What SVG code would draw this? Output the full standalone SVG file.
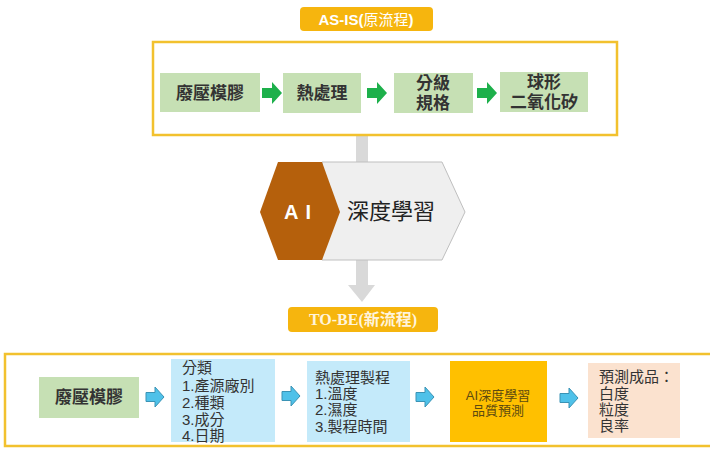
<svg xmlns="http://www.w3.org/2000/svg" width="710" height="450" viewBox="0 0 710 450">
<defs>
<style>
.cjk{font-family:"Liberation Sans","Noto Sans CJK TC",sans-serif;}
.frame{fill:#fff;stroke:#F2C12E;stroke-width:2.5;}
.gbox{fill:#C6E0B4;}
.gtxt{font-size:17px;font-weight:bold;fill:#333;text-anchor:middle;}
.garrow{fill:#1DB04B;}
.barrow{fill:#4FC1E9;stroke:#3A93B5;stroke-width:1;}
.bbox{fill:#C4EAFA;}
.ltxt{font-size:15px;fill:#333;}
.label{fill:#F6B50E;}
</style>
<path id="ga" d="M0,-5 H10 V-11 L20,0 L10,11 V5 H0 Z"/>
<path id="ba" d="M0,-4.5 H9 V-10 L18,0 L9,10 V4.5 H0 Z"/>
</defs>
<rect width="710" height="450" fill="#fff"/>

<!-- connectors: gray vertical arrow -->
<g id="connectors">
<rect x="356" y="136" width="12" height="150" fill="#D9D9D9"/>
<path d="M348,285 H375 L362,302 Z" fill="#D9D9D9"/>
</g>

<!-- AS-IS -->
<g id="asis-label">
<rect class="label" x="300" y="7" width="133" height="24" rx="4"/>
<text class="cjk" x="366" y="25" text-anchor="middle" font-size="15" fill="#fff"><tspan font-weight="bold">AS-IS(</tspan>原流程<tspan font-weight="bold">)</tspan></text>
</g>
<g id="asis-frame"><rect class="frame" x="153" y="42" width="464" height="93"/></g>

<g id="n1"><rect class="gbox" x="160" y="73" width="100" height="39"/><text class="cjk gtxt" x="210" y="99">廢壓模膠</text></g>
<g id="n2"><rect class="gbox" x="283" y="73" width="78" height="40"/><text class="cjk gtxt" x="322" y="99">熱處理</text></g>
<g id="n3"><rect class="gbox" x="394" y="73" width="79" height="40"/><text class="cjk gtxt" x="433" y="89">分級</text><text class="cjk gtxt" x="433" y="109">規格</text></g>
<g id="n4"><rect class="gbox" x="500" y="72" width="88" height="40"/><text class="cjk gtxt" x="544" y="88">球形</text><text class="cjk gtxt" x="544" y="108">二氧化矽</text></g>

<g id="top-arrows">
<use href="#ga" class="garrow" x="262" y="93"/>
<use href="#ga" class="garrow" x="367" y="93"/>
<use href="#ga" class="garrow" x="477" y="93"/>
</g>

<!-- AI deep learning -->
<g id="ai-node">
<path d="M322,162 H442 L465,212 L442,260 H322 Z" fill="#EFEFEF" stroke="#BFBFBF" stroke-width="1"/>
<path d="M278,162 H322 L340,212 L322,260 H278 L260,212 Z" fill="#B5600C"/>
<text class="cjk" x="284" y="219" font-size="20" font-weight="bold" fill="#fff" letter-spacing="7">AI</text>
<text class="cjk" x="391" y="219" font-size="22" fill="#222" text-anchor="middle">深度學習</text>
</g>

<!-- TO-BE -->
<g id="tobe-label">
<rect class="label" x="288" y="307" width="150" height="25" rx="4"/>
<text x="363" y="325" text-anchor="middle" font-size="16" font-weight="bold" fill="#FFF4DC" font-family="'Liberation Serif','Noto Sans CJK TC',serif">TO-BE(新流程)</text>
</g>
<g id="tobe-frame"><rect class="frame" x="5" y="354" width="708" height="92"/></g>

<g id="b1"><rect class="gbox" x="39" y="377" width="100" height="41"/><text class="cjk gtxt" x="89" y="403">廢壓模膠</text></g>
<g id="b2"><rect class="bbox" x="171" y="359" width="104" height="83"/>
<text class="cjk ltxt" x="182" y="373">分類</text>
<text class="cjk ltxt" x="182" y="391">1.產源廠別</text>
<text class="cjk ltxt" x="182" y="408">2.種類</text>
<text class="cjk ltxt" x="182" y="425">3.成分</text>
<text class="cjk ltxt" x="182" y="441">4.日期</text>
</g>
<g id="b3"><rect class="bbox" x="307" y="361" width="103" height="81"/>
<text class="cjk ltxt" x="315" y="383">熱處理製程</text>
<text class="cjk ltxt" x="315" y="399">1.溫度</text>
<text class="cjk ltxt" x="315" y="415">2.濕度</text>
<text class="cjk ltxt" x="315" y="432">3.製程時間</text>
</g>
<g id="b4"><rect x="450" y="361" width="97" height="81" fill="#FFC000"/>
<text class="cjk" x="498" y="400" font-size="13" fill="#5C4A10" text-anchor="middle">AI深度學習</text>
<text class="cjk" x="498" y="415" font-size="13" fill="#5C4A10" text-anchor="middle">品質預測</text>
</g>
<g id="b5"><rect x="588" y="363" width="92" height="75" fill="#FBE2CF"/>
<text class="cjk ltxt" x="599" y="382">預測成品：</text>
<text class="cjk ltxt" x="599" y="399">白度</text>
<text class="cjk ltxt" x="599" y="415">粒度</text>
<text class="cjk ltxt" x="599" y="431">良率</text>
</g>

<g id="bottom-arrows">
<use href="#ba" class="barrow" x="146" y="397"/>
<use href="#ba" class="barrow" x="282" y="396"/>
<use href="#ba" class="barrow" x="416" y="397"/>
<use href="#ba" class="barrow" x="560" y="398"/>
</g>
</svg>
